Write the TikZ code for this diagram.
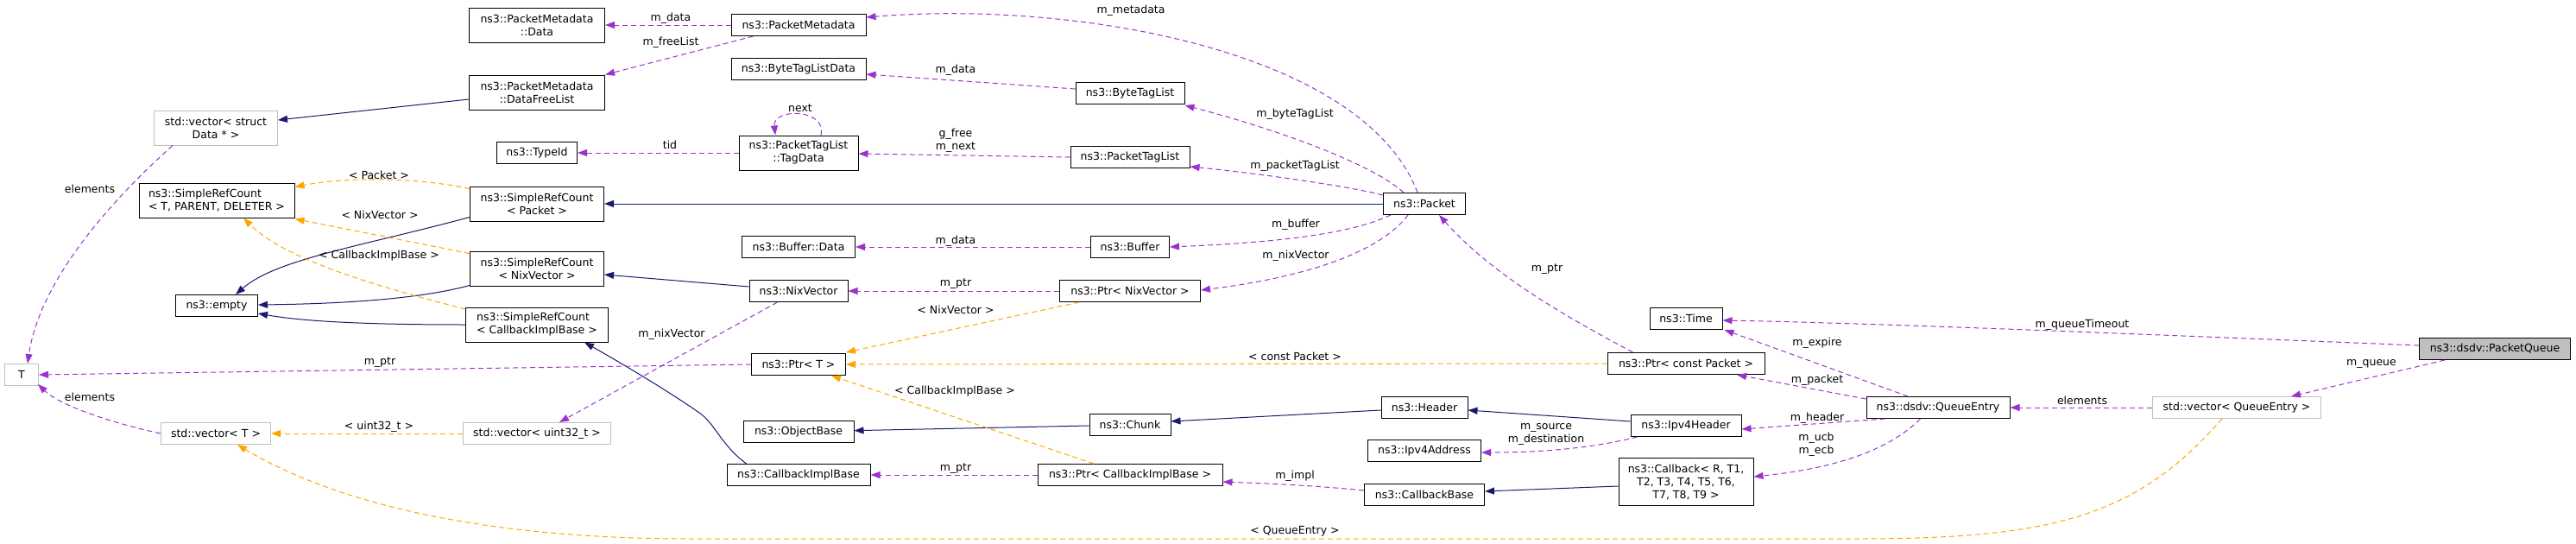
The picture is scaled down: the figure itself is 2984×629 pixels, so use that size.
\documentclass[tikz,border=0pt]{standalone}
\usepackage{fontspec}
\setmainfont{DejaVu Sans}
\usepackage{tikz}
\usetikzlibrary{arrows.meta,calc,positioning}
\definecolor{memberc}{HTML}{9A32CD}
\definecolor{tmplc}{HTML}{FFA500}
\definecolor{inheritc}{HTML}{191970}
\definecolor{extc}{HTML}{BFBFBF}
\tikzstyle{cls}=[draw=black, fill=white, line width=1pt, inner sep=0pt, align=center, minimum height=25pt]
\tikzstyle{extcls}=[cls, draw=extc]
\tikzstyle{curcls}=[cls, fill=extc]
\tikzstyle{member}=[draw=memberc, line width=1pt, dash pattern=on 6pt off 4pt, -{Triangle[length=11pt,width=8pt]}]
\tikzstyle{tmpl}=[member, draw=tmplc]
\tikzstyle{inherit}=[draw=inheritc, line width=1pt, -{Triangle[length=11pt,width=8pt]}]
\tikzstyle{lbl}=[inner sep=0pt, align=center]

\begin{document}
\begin{tikzpicture}[x=1pt, y=-1pt, font=\fontsize{12.5}{15}\selectfont]
	\useasboundingbox (0,0) rectangle (2984,629);
	% classes
	\node[cls, minimum width=157pt, minimum height=40pt] (pmdata) at (622,29) {ns3::PacketMetadata\\::Data};
	\node[cls, minimum width=157pt, minimum height=40pt] (pmfree) at (622,107) {ns3::PacketMetadata\\::DataFreeList};
	\node[extcls, minimum width=143pt, minimum height=40pt] (vecdata) at (250,148) {std::vector< struct\\Data * >};
	\node[cls, minimum width=93pt] (typeid) at (622,177) {ns3::TypeId};
	\node[cls, minimum width=180pt, minimum height=40pt, align=left] (srcT) at (251,232) {ns3::SimpleRefCount\\< T, PARENT, DELETER >};
	\node[cls, minimum width=155pt, minimum height=40pt] (srcpkt) at (622,236) {ns3::SimpleRefCount\\< Packet >};
	\node[cls, minimum width=155pt, minimum height=40pt] (srcnix) at (622,311) {ns3::SimpleRefCount\\< NixVector >};
	\node[cls, minimum width=95pt] (empty) at (251,354) {ns3::empty};
	\node[cls, minimum width=165pt, minimum height=40pt, align=left] (srccb) at (622,376) {ns3::SimpleRefCount\\< CallbackImplBase >};
	\node[extcls, minimum width=39pt] (tT) at (25,434) {T};
	\node[extcls, minimum width=127pt] (vecT) at (250,502) {std::vector< T >};
	\node[extcls, minimum width=171pt] (vecu32) at (622,502) {std::vector< uint32\_t >};
	\node[cls, minimum width=156pt] (pmeta) at (925,29) {ns3::PacketMetadata};
	\node[cls, minimum width=156pt] (btldata) at (925,80) {ns3::ByteTagListData};
	\node[cls, minimum width=138pt, minimum height=40pt] (tagdata) at (925,177) {ns3::PacketTagList\\::TagData};
	\node[cls, minimum width=126pt] (btl) at (1309,108) {ns3::ByteTagList};
	\node[cls, minimum width=138pt] (ptl) at (1309,182) {ns3::PacketTagList};
	\node[cls, minimum width=131pt] (bufdata) at (925,286) {ns3::Buffer::Data};
	\node[cls, minimum width=91pt] (buf) at (1309,286) {ns3::Buffer};
	\node[cls, minimum width=95pt] (pkt) at (1650,236) {ns3::Packet};
	\node[cls, minimum width=114pt] (nix) at (925,337) {ns3::NixVector};
	\node[cls, minimum width=163pt] (ptrnix) at (1309,337) {ns3::Ptr< NixVector >};
	\node[cls, minimum width=109pt] (ptrT) at (925,422) {ns3::Ptr< T >};
	\node[cls, minimum width=128pt] (objbase) at (925,500) {ns3::ObjectBase};
	\node[cls, minimum width=94pt] (chunk) at (1309,492) {ns3::Chunk};
	\node[cls, minimum width=166pt] (cbimpl) at (925,550) {ns3::CallbackImplBase};
	\node[cls, minimum width=214pt] (ptrcb) at (1309,550) {ns3::Ptr< CallbackImplBase >};
	\node[cls, minimum width=84pt] (time) at (1953,369) {ns3::Time};
	\node[cls, minimum width=182pt] (ptrcpkt) at (1953,421) {ns3::Ptr< const Packet >};
	\node[cls, minimum width=100pt] (header) at (1650,472) {ns3::Header};
	\node[cls, minimum width=128pt] (ipv4hdr) at (1953,493) {ns3::Ipv4Header};
	\node[cls, minimum width=131pt] (ipv4addr) at (1650,522) {ns3::Ipv4Address};
	\node[cls, minimum width=139pt] (cbbase) at (1650,573) {ns3::CallbackBase};
	\node[cls, minimum width=156pt, minimum height=55pt] (callback) at (1953,558) {ns3::Callback< R, T1,\\T2, T3, T4, T5, T6,\\T7, T8, T9 >};
	\node[cls, minimum width=166pt] (qentry) at (2245,472) {ns3::dsdv::QueueEntry};
	\node[extcls, minimum width=195pt] (vecqe) at (2591,472) {std::vector< QueueEntry >};
	\node[curcls, minimum width=175pt] (pqueue) at (2890,404) {ns3::dsdv::PacketQueue};
	% inheritance
	\draw[inherit] ($(pmfree.west)+(0,8)$) -- ($(vecdata.east)+(0,-9)$);
	\draw[inherit] (pkt) -- (srcpkt);
	\draw[inherit] ($(nix.west)+(0,-5)$) -- ($(srcnix.east)+(0,7)$);
	\draw[inherit] ($(srcpkt.south west)+(0,-5)$) .. controls (420,285) and (320,300) .. ($(empty.north)+(22,0)$);
	\draw[inherit] ($(srcnix.south west)+(0,-1)$) .. controls (480,348) and (380,352) .. ($(empty.east)+(0,-1)$);
	\draw[inherit] (srccb.west) .. controls (420,376) and (350,372) .. ($(empty.east)+(0,9)$);
	\draw[inherit] ($(cbimpl.north west)+(23,0)$) .. controls (835,515) and (828,490) .. (810,478) .. controls (770,450) and (710,415) .. ($(srccb.south east)+(-28,0)$);
	\draw[inherit] (chunk) -- (objbase);
	\draw[inherit] ($(header.west)+(0,3)$) -- ($(chunk.east)+(0,-4)$);
	\draw[inherit] ($(ipv4hdr.west)+(0,-5)$) -- ($(header.east)+(0,3)$);
	\draw[inherit] ($(callback.west)+(0,5)$) -- ($(cbbase.east)+(0,-4)$);
	% template instances
	\draw[tmpl] ($(srcpkt.north west)+(0,3)$) .. controls (480,205) and (400,205) .. ($(srcT.north east)+(0,5)$);
	\draw[tmpl] ($(srcnix.north west)+(0,3)$) -- ($(srcT.south east)+(0,1)$);
	\draw[tmpl] ($(srccb.west)+(0,-18)$) .. controls (430,330) and (330,300) .. ($(srcT.south)+(31,0)$);
	\draw[tmpl] (vecu32) -- (vecT);
	\draw[tmpl] ($(vecqe.south west)+(81,0)$) .. controls (2475,598) and (2380,624) .. (2150,624) -- (800,624) .. controls (500,624) and (350,560) .. ($(vecT.south east)+(-39,0)$);
	\draw[tmpl] ($(ptrnix.south west)+(23,0)$) -- ($(ptrT.north east)+(0,-1)$);
	\draw[tmpl] (ptrcpkt.west) -- (ptrT.east);
	\draw[tmpl] ($(ptrcb.north)+(-42,0)$) -- ($(ptrT.south east)+(-17,0)$);
	% members
	\draw[member] (pmeta) -- (pmdata);
	\draw[member] ($(pmeta.south west)+(26,0)$) -- (pmfree.north east);
	\draw[member] ($(vecdata.south west)+(22,0)$) .. controls (120,240) and (45,330) .. ($(tT.north)+(7,0)$);
	\draw[member] (vecT.west) .. controls (130,490) and (70,470) .. ($(tT.south east)+(-1,-2)$);
	\draw[member] (ptrT.west) -- (tT.east);
	\draw[member] ($(nix.south west)+(33,0)$) -- ($(vecu32.north)+(26,0)$);
	\draw[member] (ptrnix) -- (nix);
	\draw[member] (ptrcb) -- (cbimpl);
	\draw[member] ($(cbbase.west)+(0,-5)$) .. controls (1520,562) and (1470,560) .. ($(ptrcb.east)+(0,8)$);
	\draw[member] ($(pkt.south west)+(29,0)$) .. controls (1600,290) and (1520,320) .. ($(ptrnix.east)+(0,-1)$);
	\draw[member] ($(pkt.south west)+(9,0)$) .. controls (1570,268) and (1500,280) .. (buf.east);
	\draw[member] ($(pkt.north west)+(0,3)$) .. controls (1560,215) and (1450,200) .. ($(ptl.south east)+(0,-2)$);
	\draw[member] ($(pkt.north west)+(24,0)$) .. controls (1590,190) and (1480,150) .. ($(btl.south east)+(0,1)$);
	\draw[member] ($(pkt.north west)+(40,0)$) .. controls (1580,60) and (1250,0) .. ($(pmeta.east)+(0,-9)$);
	\draw[member] ($(btl.west)+(0,-5)$) -- ($(btldata.east)+(0,6)$);
	\draw[member] (ptl.west) -- ($(tagdata.east)+(0,1)$);
	\draw[member] ($(tagdata.north)+(26,0)$) .. controls (958,125) and (895,125) .. ($(tagdata.north)+(-27,0)$);
	\draw[member] (tagdata) -- (typeid);
	\draw[member] (buf) -- (bufdata);
	\draw[member] ($(ptrcpkt.north west)+(30,0)$) .. controls (1820,370) and (1730,320) .. ($(pkt.south)+(17,0)$);
	\draw[member] ($(pqueue.west)+(0,-4)$) .. controls (2500,388) and (2200,375) .. ($(time.east)+(0,2)$);
	\draw[member] ($(qentry.north)+(-35,0)$) -- ($(time.south east)+(2,0)$);
	\draw[member] ($(qentry.north west)+(0,3)$) -- ($(ptrcpkt.south)+(59,0)$);
	\draw[member] ($(qentry.south west)+(22,0)$) -- ($(ipv4hdr.east)+(0,4)$);
	\draw[member] ($(qentry.south west)+(63,0)$) .. controls (2180,530) and (2100,545) .. ($(callback.east)+(0,-6)$);
	\draw[member] ($(ipv4hdr.south west)+(8,0)$) .. controls (1840,520) and (1780,524) .. ($(ipv4addr.east)+(0,2)$);
	\draw[member] (vecqe) -- (qentry);
	\draw[member] ($(pqueue.south west)+(30,0)$) -- ($(vecqe.north east)+(-35,0)$);
	% labels
	\node[lbl] (l1) at (777,21) {m\_data};
	\node[lbl] (l2) at (777,49) {m\_freeList};
	\node[lbl] (l3) at (104,219) {elements};
	\node[lbl] (l4) at (104,460) {elements};
	\node[lbl] (l5) at (440,420) {m\_ptr};
	\node[lbl] (l6) at (439,494) {< uint32\_t >};
	\node[lbl] (l7) at (1500,615) {< QueueEntry >};
	\node[lbl] (l8) at (439,203) {< Packet >};
	\node[lbl] (l9) at (440,249) {< NixVector >};
	\node[lbl] (l10) at (439,296) {< CallbackImplBase >};
	\node[lbl] (l11) at (778,387) {m\_nixVector};
	\node[lbl] (l12) at (1107,329) {m\_ptr};
	\node[lbl] (l13) at (1107,359) {< NixVector >};
	\node[lbl] (l14) at (1500,413) {< const Packet >};
	\node[lbl] (l15) at (1106,453) {< CallbackImplBase >};
	\node[lbl] (l16) at (1107,543) {m\_ptr};
	\node[lbl] (l17) at (1500,551) {m\_impl};
	\node[lbl] (l18) at (1501,296) {m\_nixVector};
	\node[lbl] (l19) at (1501,260) {m\_buffer};
	\node[lbl] (l20) at (1500,192) {m\_packetTagList};
	\node[lbl] (l21) at (1500,132) {m\_byteTagList};
	\node[lbl] (l22) at (1310,12) {m\_metadata};
	\node[lbl] (l23) at (1107,81) {m\_data};
	\node[lbl] (l24) at (1107,163) {g\_free\\m\_next};
	\node[lbl] (l25) at (927,125) {next};
	\node[lbl] (l26) at (776,168) {tid};
	\node[lbl] (l27) at (1107,279) {m\_data};
	\node[lbl] (l28) at (1792,312) {m\_ptr};
	\node[lbl] (l29) at (2412,376) {m\_queueTimeout};
	\node[lbl] (l30) at (2105,397) {m\_expire};
	\node[lbl] (l31) at (2105,440) {m\_packet};
	\node[lbl] (l32) at (2105,484) {m\_header};
	\node[lbl] (l33) at (2104,515) {m\_ucb\\m\_ecb};
	\node[lbl] (l34) at (1791,503) {m\_source\\m\_destination};
	\node[lbl] (l35) at (2412,464) {elements};
	\node[lbl] (l36) at (2747,421) {m\_queue};
\end{tikzpicture}
\end{document}
